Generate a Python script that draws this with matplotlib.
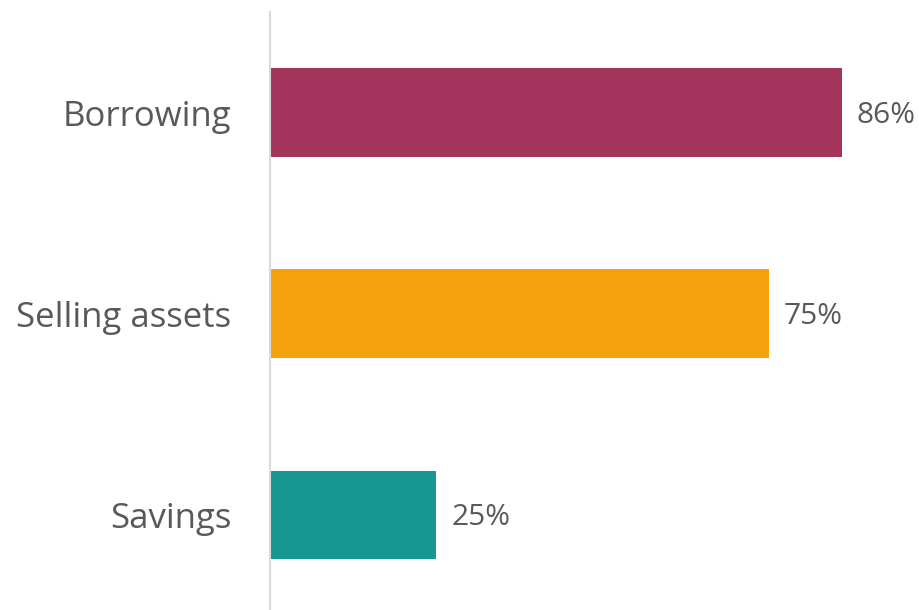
import matplotlib
matplotlib.use("Agg")
import matplotlib.pyplot as plt

categories = ["Borrowing", "Selling assets", "Savings"]
shares = [86, 75, 25]
bar_colors = ["#A3345C", "#F5A20C", "#189692"]

TEXT_COLOR = "#595959"

plt.rcParams["font.family"] = ["Open Sans", "DejaVu Sans"]

fig = plt.figure(figsize=(9.2, 6.1), dpi=100)
ax = fig.add_axes([270 / 920, 0.0, 650 / 920, 598 / 610])

positions = list(range(len(categories)))
ax.barh(positions, shares, height=0.438, color=bar_colors, left=0)

for pos, val in zip(positions, shares):
    ax.annotate(f"{val}%", xy=(val, pos), xytext=(10.8, -2.5), textcoords="offset points",
                ha="left", va="center", fontsize=21.5, color=TEXT_COLOR)

ax.set_xlim(0, 650 / 6.65)
ax.set_ylim(2.475, -0.5)
ax.set_yticks(positions)
ax.set_yticklabels(categories, fontsize=25, color=TEXT_COLOR)
ax.tick_params(axis="y", length=0, pad=28)
ax.set_xticks([])

for side in ["top", "right", "bottom"]:
    ax.spines[side].set_visible(False)
ax.spines["left"].set_color("#d9d9d9")
ax.spines["left"].set_linewidth(1.5)

fig.savefig("out.png", dpi=100)
